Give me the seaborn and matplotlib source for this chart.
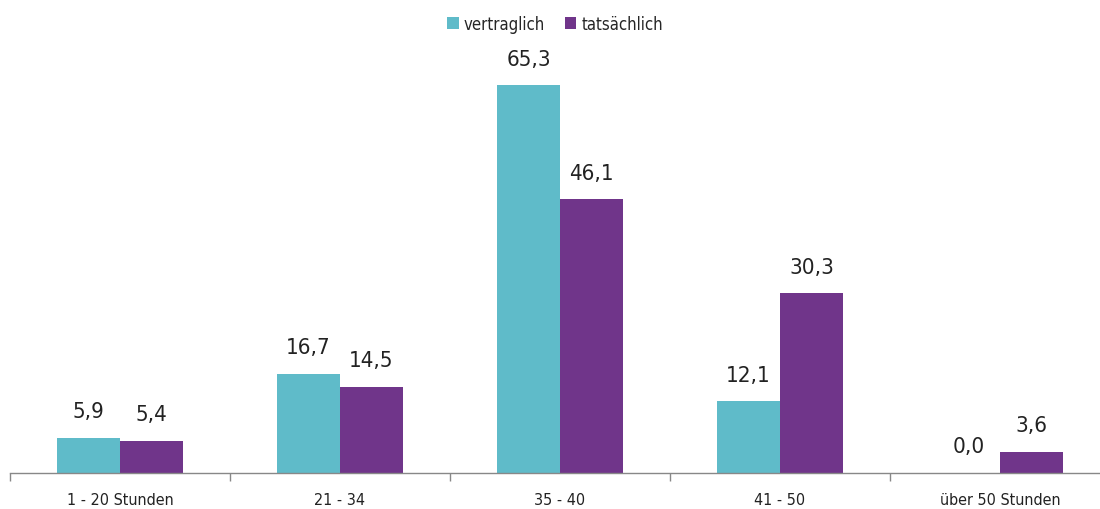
import matplotlib
matplotlib.use("Agg")
import matplotlib.pyplot as plt
from matplotlib.patches import Patch
import seaborn as sns
import pandas as pd

categories = ["1 - 20 Stunden", "21 - 34", "35 - 40", "41 - 50", "über 50 Stunden"]
vertraglich = [5.9, 16.7, 65.3, 12.1, 0.0]
tatsaechlich = [5.4, 14.5, 46.1, 30.3, 3.6]
series_names = ["vertraglich", "tatsächlich"]
colors = ["#5FBBC9", "#70358A"]

df = pd.DataFrame({
    "Kategorie": categories * 2,
    "Wert": vertraglich + tatsaechlich,
    "Art": [series_names[0]] * len(categories) + [series_names[1]] * len(categories),
})

sns.set_theme(style="white")
plt.rcParams["font.family"] = ["DejaVu Sans"]
plt.rcParams["font.stretch"] = "condensed"

fig = plt.figure(figsize=(11, 5.1), dpi=100)
ax = fig.add_axes([10 / 1100, 36 / 510, 1.0, (474 - 36) / 510])

sns.barplot(data=df, x="Kategorie", y="Wert", hue="Art", order=categories,
            hue_order=series_names, palette=colors, width=0.573, gap=0,
            saturation=1, legend=False, linewidth=0, ax=ax)

for container in ax.containers:
    ax.bar_label(container, labels=[f"{v:.1f}".replace(".", ",") for v in container.datavalues],
                 padding=12, fontsize=16, color="#222222")

ax.set_xlim(-0.5, 4.5)
ax.set_ylim(0, 73.8)
ax.set_xlabel("")
ax.set_ylabel("")
ax.set_yticks([])
ax.set_xticks([i - 0.5 for i in range(6)], minor=True)
ax.tick_params(axis="x", which="major", length=0, labelsize=11.5, pad=14, colors="#222222")
ax.tick_params(axis="x", which="minor", length=6, width=1, color="#888888", direction="out", bottom=True)
for s in ["top", "right", "left"]:
    ax.spines[s].set_visible(False)
ax.spines["bottom"].set_color("#888888")
ax.spines["bottom"].set_linewidth(1)

handles = [Patch(facecolor=c, edgecolor="none") for c in colors]
fig.legend(handles, series_names, loc="center", bbox_to_anchor=(555 / 1100, 1 - 25 / 510),
           ncol=2, frameon=False, fontsize=12, handlelength=0.7, handleheight=0.7,
           handletextpad=0.3, columnspacing=1.2)

fig.savefig("out.png", dpi=100)
